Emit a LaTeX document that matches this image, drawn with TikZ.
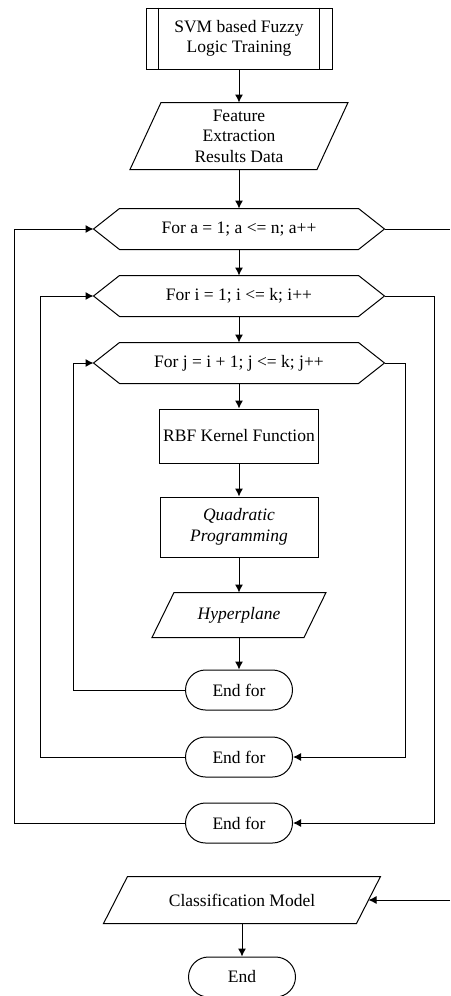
\documentclass[tikz,border=0pt]{standalone}
\usepackage{fontspec}
\setmainfont{Liberation Serif}
\usetikzlibrary{arrows.meta}

\tikzset{
  box/.style={draw, minimum width=158pt, align=center},
  hexa/.style={minimum width=290pt, minimum height=40pt},
  para/.style={align=center},
  term/.style={draw, rounded corners=20pt, minimum width=107pt, minimum height=40pt},
  arr/.style={-{Latex[length=8pt,width=8pt]}},
}

\begin{document}
\begin{tikzpicture}[x=1pt,y=-1pt,line width=1pt,font=\fontsize{17.5}{20.5}\selectfont]
\useasboundingbox (0,0) rectangle (450,996);
% main column
\node[box,minimum width=186pt,minimum height=61pt] (top) at (239,38.5) {SVM based Fuzzy\\Logic Training};
\node[para,minimum width=186pt,minimum height=66pt] (feat) at (239,136) {Feature\\Extraction\\Results Data};
\node[hexa] (fora) at (239,229) {For a = 1; a <= n; a++};
\node[hexa] (fori) at (239,296) {For i = 1; i <= k; i++};
\node[hexa] (forj) at (239,363) {For j = i + 1; j <= k; j++};
\node[box,minimum height=54pt] (rbf) at (239,436) {RBF Kernel Function};
\node[box,minimum height=60pt] (qp) at (239,527) {\textit{Quadratic}\\\textit{Programming}};
\node[para,minimum width=151pt,minimum height=44pt] (hyper) at (239,615) {\textit{Hyperplane}};
\node[term] (endj) at (239,690) {End for};
\node[term] (endi) at (239,757) {End for};
\node[term] (enda) at (239,823) {End for};
\node[para,minimum width=252pt,minimum height=46pt] (cls) at (242,900) {Classification Model};
\node[term] (fin) at (242,977) {End};
\coordinate (rim) at (450,0);

% outlines
\draw ([xshift=13pt]top.north west) -- ([xshift=13pt]top.south west)
      ([xshift=-13pt]top.north east) -- ([xshift=-13pt]top.south east);
\foreach \n in {fora,fori,forj}
  \draw ([xshift=26pt]\n.north west) -- ([xshift=-26pt]\n.north east) -- (\n.east)
    -- ([xshift=-26pt]\n.south east) -- ([xshift=26pt]\n.south west) -- (\n.west) -- cycle;
\foreach \n/\s in {feat/15.5,hyper/11,cls/12}
  \draw ([xshift=\s pt]\n.north west) -- ([xshift=\s pt]\n.north east)
    -- ([xshift=-\s pt]\n.south east) -- ([xshift=-\s pt]\n.south west) -- cycle;

% connectors
\draw[arr] (top) -- (feat);
\draw[arr] (feat) -- (fora);
\draw[arr] (fora) -- (fori);
\draw[arr] (fori) -- (forj);
\draw[arr] (forj) -- (rbf);
\draw[arr] (rbf) -- (qp);
\draw[arr] (qp) -- (hyper);
\draw[arr] (hyper) -- (endj);
\draw[arr] (endj.west) -- ++(-112,0) |- (forj.west);
\draw[arr] (endi.west) -- ++(-145,0) |- (fori.west);
\draw[arr] (enda.west) -- ++(-171,0) |- (fora.west);
\draw[arr] (forj.east) -- ++(21,0) |- (endi.east);
\draw[arr] (fori.east) -- ++(50,0) |- (enda.east);
\draw (fora.east) -- (fora.east -| rim);
\draw[arr] (cls.east -| rim) -- (cls.east);
\draw[arr] (cls) -- (fin);
\end{tikzpicture}
\end{document}
